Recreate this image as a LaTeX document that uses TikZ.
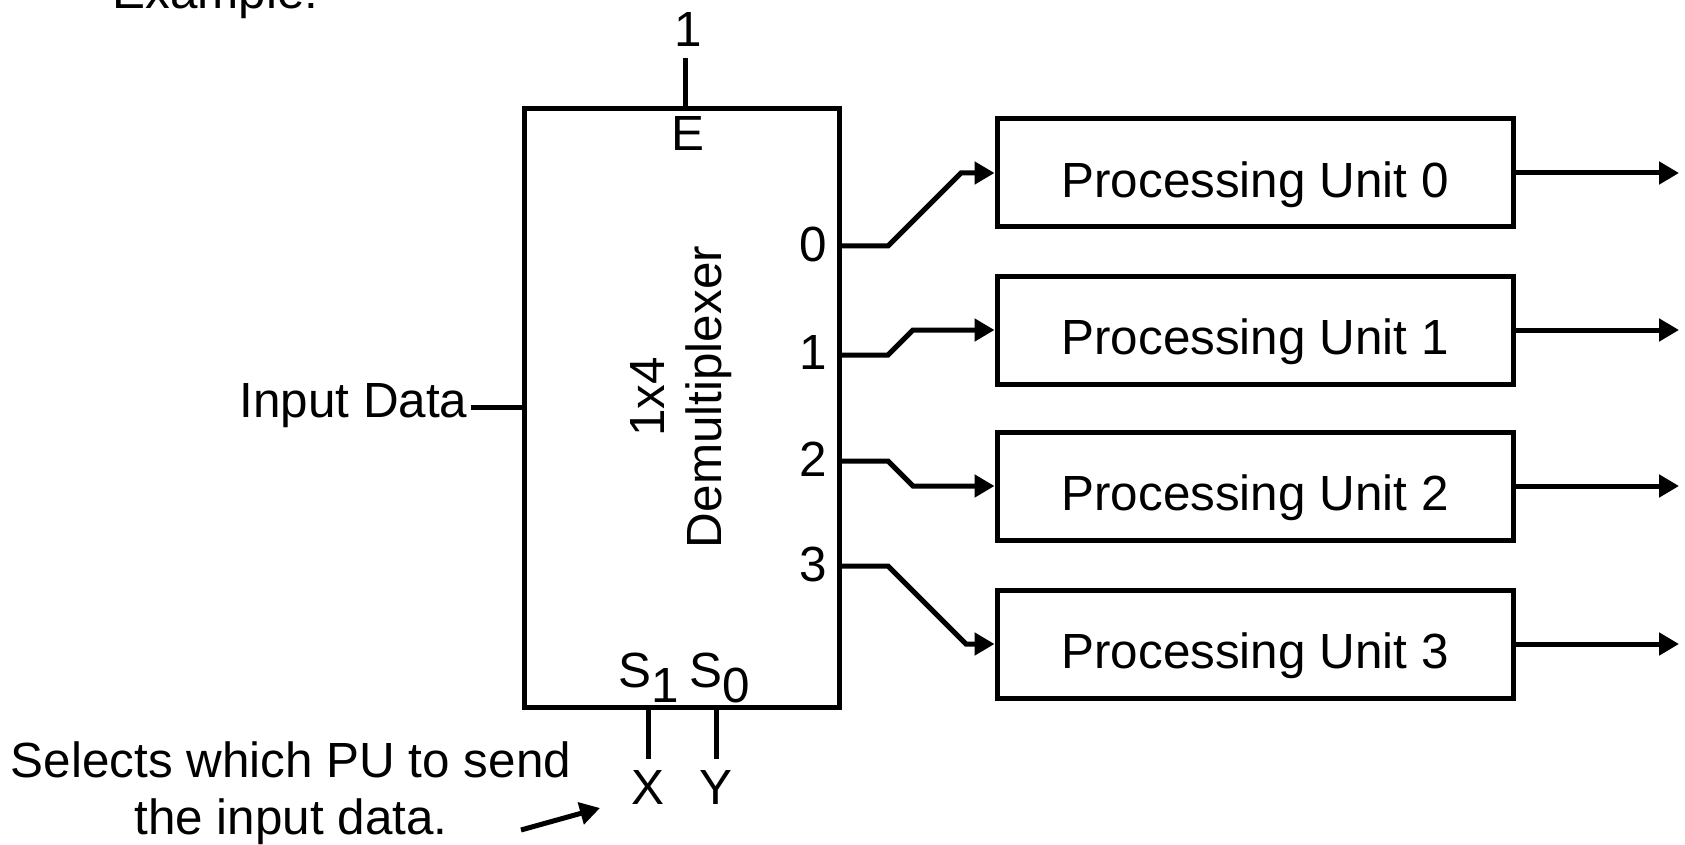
\documentclass[tikz,border=0pt]{standalone}
\usepackage{fontspec}
\setmainfont{Liberation Sans}
\usetikzlibrary{arrows.meta}
\tikzset{demuxfig/.style={x=0.5pt,y=-0.5pt,line width=2.5pt,font=\fontsize{24.7}{28.5}\selectfont},
  unitbox/.style={draw,minimum width=258pt,minimum height=54pt,inner sep=0pt,text height=24.5pt,text depth=0pt},
  feed/.style={-{Triangle[length=10pt,width=11pt]}}}

\begin{document}
\begin{tikzpicture}[demuxfig]
    \useasboundingbox (0,0) rectangle (1685,845);
    \node[anchor=base west,inner sep=0pt] (ex) at (110,9) {Example:};
    % demultiplexer
    \node[draw,minimum width=157.5pt,minimum height=299pt,inner sep=0pt] (dmx) at (681.5,408) {};
    \node[rotate=90,align=center] (dmxlbl) at (681,397) {1x4\\Demultiplexer};
    \coordinate (etop) at (685,58);
    \draw (etop) -- (etop |- dmx.north);
    \node (one) at (688,30) {1};
    \node (elbl) at (688,134) {E};
    \node[anchor=base east,inner sep=0pt] (inlbl) at (470,417) {Input Data};
    \coordinate (din) at (471,407);
    \draw (din) -- (din -| dmx.west);
    \node[anchor=base,inner sep=0pt] (s1) at (649,687) {S\raisebox{-7.5pt}{1}};
    \node[anchor=base,inner sep=0pt] (s0) at (720,687) {S\raisebox{-7.5pt}{0}};
    \coordinate (xend) at (648,759);
    \coordinate (yend) at (716,759);
    \draw (xend |- dmx.south) -- (xend);
    \draw (yend |- dmx.south) -- (yend);
    \node (xlbl) at (648,787) {X};
    \node (ylbl) at (716,787) {Y};
    \node[align=center,inner sep=0pt] (note) at (291,793) {Selects which PU to send\\the input data.};
    \coordinate (sa) at (521,830);
    \coordinate (sb) at (600,808);
    \draw[feed] (sa) -- (sb);
    % processing units
    \foreach \i/\py/\ty in {0/246/173,1/355/330,2/461/486,3/566/644}{
      \pgfmathsetmacro\dx{abs(\ty-\py)}
      \coordinate (p\i) at (839,\py);
      \node[anchor=east,inner sep=5pt] (l\i) at (839,\py-2) {\i};
      \node[unitbox] (pu\i) at (1255,\ty) {Processing Unit \i};
      \draw[feed] (p\i) -- ++(49,0) -- ++(\dx,\ty-\py) -- (pu\i.west);
      \coordinate (q\i) at (1679,\ty);
      \draw[feed] (pu\i.east) -- (q\i);
    }
  \end{tikzpicture}
\end{document}
